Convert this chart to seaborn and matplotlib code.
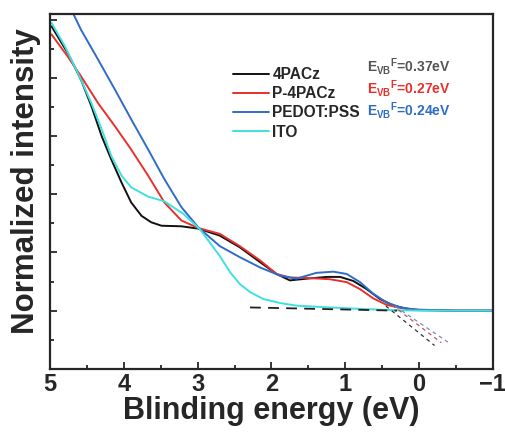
import matplotlib
matplotlib.use("Agg")
import matplotlib.pyplot as plt
import seaborn as sns
import pandas as pd

sns.set_style("ticks")
plt.rcParams['font.family'] = ['Liberation Sans', 'DejaVu Sans']
plt.rcParams['mathtext.default'] = 'regular'

# ---- data ----
x_4pacz = [4.98, 4.76, 4.58, 4.44, 4.30, 4.17, 4.03, 3.90, 3.76, 3.63, 3.49, 3.22, 2.99, 2.70, 2.43,
           2.15, 1.93, 1.75, 1.52, 1.25, 1.07, 0.89, 0.71, 0.53, 0.35, 0.17, 0.0, -0.5, -1.0]
y_4pacz = [4.89, 4.43, 3.97, 3.52, 3.00, 2.60, 2.20, 1.86, 1.63, 1.52, 1.46, 1.45, 1.41, 1.29, 1.09,
           0.83, 0.63, 0.52, 0.55, 0.58, 0.58, 0.51, 0.37, 0.20, 0.09, 0.03, 0.01, 0.0, 0.0]

x_p4pacz = [4.98, 4.76, 4.58, 4.35, 4.12, 3.90, 3.67, 3.45, 3.22, 2.99, 2.70, 2.43, 2.15, 1.93,
            1.75, 1.48, 1.21, 0.98, 0.80, 0.62, 0.44, 0.26, 0.0, -0.5, -1.0]
y_p4pacz = [4.75, 4.37, 4.03, 3.57, 3.17, 2.77, 2.32, 1.86, 1.55, 1.42, 1.32, 1.11, 0.86, 0.63,
            0.57, 0.56, 0.54, 0.49, 0.37, 0.21, 0.10, 0.05, 0.01, 0.0, 0.0]

x_pedot = [4.69, 4.58, 4.35, 4.12, 3.90, 3.67, 3.45, 3.22, 2.99, 2.70, 2.43, 2.15, 1.88, 1.66,
           1.39, 1.16, 0.98, 0.80, 0.62, 0.44, 0.26, 0.08, -0.5, -1.0]
y_pedot = [5.12, 4.83, 4.32, 3.80, 3.29, 2.77, 2.26, 1.78, 1.43, 1.11, 0.92, 0.74, 0.60, 0.55,
           0.65, 0.67, 0.63, 0.49, 0.29, 0.14, 0.06, 0.02, 0.0, 0.0]

x_ito = [4.98, 4.80, 4.58, 4.44, 4.30, 4.17, 4.03, 3.90, 3.67, 3.45, 3.19, 2.97, 2.70, 2.56,
         2.43, 2.29, 2.11, 1.88, 1.66, 1.43, 1.21, 0.80, 0.40, 0.0, -0.5, -1.0]
y_ito = [4.95, 4.55, 3.97, 3.57, 3.12, 2.66, 2.32, 2.12, 1.96, 1.88, 1.66, 1.40, 0.94, 0.66,
         0.46, 0.32, 0.20, 0.13, 0.086, 0.07, 0.055, 0.03, 0.01, 0.0, 0.0, 0.0]

names = ["4PACz", "P-4PACz", "PEDOT:PSS", "ITO"]
colors = ["#111111", "#e8302c", "#2f6cc8", "#3fe0e0"]
evb_labels = ["0.37", "0.27", "0.24"]
evb_colors = ["#555555", "#e8302c", "#2f6cc8"]

# baseline & tangent guide lines
base_x = [2.29, 0.30]
base_y = [0.055, 0.0]
tan_x = [[0.45, -0.21], [0.36, -0.30], [0.32, -0.39]]
tan_y = [[0.08, -0.60], [0.09, -0.55], [0.07, -0.54]]
tan_colors = ["#333333", "#c05060", "#7090c0"]

fig = plt.figure(figsize=(5.05, 4.38), dpi=100)
ax = fig.add_axes([0.099, 0.158, 0.877, 0.810])

series = [(x_4pacz, y_4pacz), (x_p4pacz, y_p4pacz), (x_pedot, y_pedot), (x_ito, y_ito)]
for (xs, ys), name, c in zip(series, names, colors):
    df = pd.DataFrame({"x": xs, "y": ys})
    sns.lineplot(data=df, x="x", y="y", ax=ax, color=c, lw=1.4, label=name,
                 sort=False, estimator=None)

ax.plot(base_x, base_y, ls=(0, (6, 4)), color="#222222", lw=1.3)
for tx, ty, tc in zip(tan_x, tan_y, tan_colors):
    ax.plot(tx, ty, ls=(0, (3, 3)), color=tc, lw=0.9)

ax.set_xlim(5, -1)
ax.set_ylim(-1, 5.1)
ax.set_xticks([5, 4, 3, 2, 1, 0, -1])
ax.set_xticklabels(["5", "4", "3", "2", "1", "0", "\u22121"])
ax.set_xticks([4.5, 3.5, 2.5, 1.5, 0.5, -0.5], minor=True)
ax.set_yticks([0, 1, 2, 3, 4, 5])
ax.set_yticks([-0.5, 0.5, 1.5, 2.5, 3.5, 4.5], minor=True)
ax.set_yticklabels([])
ax.tick_params(which="both", direction="in", width=1.3)
ax.tick_params(which="major", length=5)
ax.tick_params(which="minor", length=3)
ax.tick_params(axis="x", labelsize=17, pad=3)
for lab in ax.get_xticklabels():
    lab.set_fontweight("bold")
for s in ax.spines.values():
    s.set_linewidth(1.6)
    s.set_visible(True)

ax.set_xlabel("Blinding energy (eV)", fontsize=22, fontweight="bold", labelpad=0)
ax.set_ylabel("Normalized intensity", fontsize=22.5, fontweight="bold", labelpad=3)
ax.yaxis.label.set_y(0.53)

leg = ax.legend(loc="upper left", bbox_to_anchor=(0.40, 0.868), frameon=False,
                prop={"weight": "bold", "size": 11.2}, handlelength=2.3,
                handletextpad=0.2, labelspacing=0.27, borderaxespad=0)

for i, (v, c) in enumerate(zip(evb_labels, evb_colors)):
    ax.text(0.716, 0.852 - i * 0.0625, r"E$_{VB}$$^{F}$=" + v + "eV", transform=ax.transAxes,
            color=c, fontsize=10, va="center", ha="left", fontweight="bold")

fig.savefig("out.png", dpi=100)
